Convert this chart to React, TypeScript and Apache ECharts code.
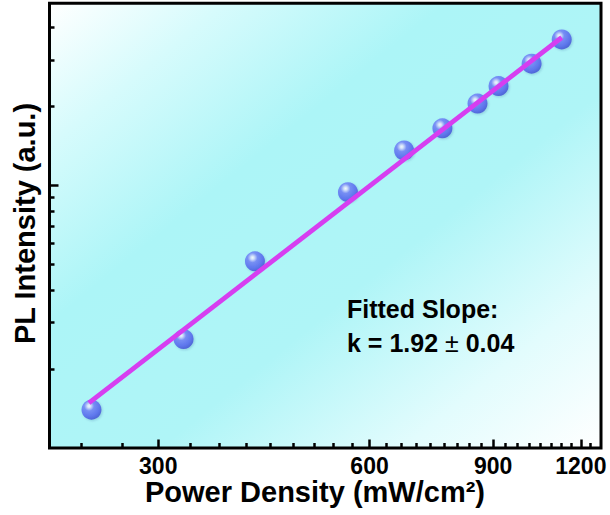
import React, { useEffect, useRef } from 'react';
import * as echarts from 'echarts';

// ---- data ----
const powerDensity = [241, 326, 412, 559, 672, 762, 855, 916, 1021, 1127];
const plIntensity = [1.4, 2.6, 5.14, 9.43, 13.6, 16.5, 20.5, 23.9, 29.1, 36.0];
const fitX = [239, 1127];
const fitY = [1.485, 36.6];

const xRange = [210, 1282];
const yRange = [1, 49.4];
const xMajorTicks = [300, 600, 900, 1200];
const xMinorTicks = [
  233.3, 266.7, 333.3, 366.7, 400, 433.3, 466.7, 500, 533.3, 566.7, 633.3, 666.7, 700, 733.3,
  766.7, 800, 833.3, 866.7, 937.5, 975, 1012.5, 1050, 1087.5, 1125, 1162.5, 1237.5,
];
const yMajorTicks = [10];
const yMinorTicks = [2, 3, 4, 5, 6, 7, 8, 9, 20, 30, 40];

const xTitle = 'Power Density (mW/cm²)';
const yTitle = 'PL Intensity (a.u.)';
const noteTitle = 'Fitted Slope:';
const noteSlope = 'k = 1.92';
const noteError = '0.04';

const FONT = '"Liberation Sans", Arial, Helvetica, sans-serif';
const lg = (v: number) => Math.log10(v);

export default function App() {
  const ref = useRef<HTMLDivElement>(null);

  useEffect(() => {
    if (!ref.current) return;
    const chart = echarts.init(ref.current, undefined, { renderer: 'svg' });

    const xMin = lg(xRange[0]);
    const xMax = lg(xRange[1]);
    const yMin = lg(yRange[0]);
    const yMax = lg(yRange[1]);

    const baseAxis = {
      type: 'value' as const,
      axisLine: { show: false },
      splitLine: { show: false },
    };

    const sphere = new echarts.graphic.RadialGradient(0.38, 0.32, 0.68, [
      { offset: 0, color: '#ffffff' },
      { offset: 0.12, color: '#dfe2ff' },
      { offset: 0.36, color: '#6d7cf7' },
      { offset: 0.75, color: '#5162ef' },
      { offset: 1, color: '#3e4ed6' },
    ]);

    const bg = new echarts.graphic.LinearGradient(0, 0, 1, 1, [
      { offset: 0, color: '#ffffff' },
      { offset: 0.16, color: '#d6fbfc' },
      { offset: 0.36, color: '#acf5f7' },
      { offset: 0.6, color: '#aff5f7' },
      { offset: 0.82, color: '#e2fcfd' },
      { offset: 1, color: '#ffffff' },
    ]);

    chart.setOption({
      animation: false,
      textStyle: { fontFamily: FONT },
      grid: {
        left: 49.5,
        right: 9,
        top: 3.3,
        bottom: 67,
        show: true,
        backgroundColor: bg as any,
        borderColor: '#000',
        borderWidth: 3,
        z: 0,
      },
      xAxis: [
        {
          ...baseAxis,
          position: 'bottom',
          min: xMin,
          max: xMax,
          axisTick: {
            show: true,
            inside: true,
            length: 8.5,
            lineStyle: { color: '#000', width: 2.5 },
            customValues: xMajorTicks.map(lg),
          },
          axisLabel: {
            show: true,
            customValues: xMajorTicks.map(lg),
            formatter: (v: number) => String(Math.round(Math.pow(10, v))),
            color: '#000',
            fontSize: 23,
            fontWeight: 'bold',
            fontFamily: FONT,
            margin: 6,
          },
        },
        {
          ...baseAxis,
          position: 'bottom',
          min: xMin,
          max: xMax,
          axisTick: {
            show: true,
            inside: true,
            length: 5,
            lineStyle: { color: '#000', width: 2.5 },
            customValues: xMinorTicks.map(lg),
          },
          axisLabel: { show: false },
        },
      ],
      yAxis: [
        {
          ...baseAxis,
          position: 'left',
          min: yMin,
          max: yMax,
          axisTick: {
            show: true,
            inside: true,
            length: 9,
            lineStyle: { color: '#000', width: 2.5 },
            customValues: yMajorTicks.map(lg),
          },
          axisLabel: { show: false },
        },
        {
          ...baseAxis,
          position: 'left',
          min: yMin,
          max: yMax,
          axisTick: {
            show: true,
            inside: true,
            length: 5,
            lineStyle: { color: '#000', width: 2.5 },
            customValues: yMinorTicks.map(lg),
          },
          axisLabel: { show: false },
        },
      ],
      series: [
        {
          type: 'scatter',
          xAxisIndex: 0,
          yAxisIndex: 0,
          z: 2,
          symbol: 'circle',
          symbolSize: 20,
          itemStyle: {
            color: sphere as any,
            shadowColor: 'rgba(40,50,120,0.25)',
            shadowBlur: 2,
            shadowOffsetX: 1,
            shadowOffsetY: 1,
          },
          data: powerDensity.map((x, i) => [lg(x), lg(plIntensity[i])]),
        },
        {
          type: 'line',
          xAxisIndex: 0,
          yAxisIndex: 0,
          z: 3,
          symbol: 'none',
          lineStyle: { color: '#d63ef0', width: 4.8 },
          data: fitX.map((x, i) => [lg(x), lg(fitY[i])]),
        },
      ],
      graphic: [
        {
          type: 'text',
          x: 315,
          y: 492,
          z: 10,
          style: {
            text: xTitle,
            font: `bold 29px ${FONT}`,
            fill: '#000',
            align: 'center',
            verticalAlign: 'middle',
          },
        },
        {
          type: 'text',
          x: 25,
          y: 223.5,
          rotation: Math.PI / 2,
          z: 10,
          style: {
            text: yTitle,
            font: `bold 29px ${FONT}`,
            fill: '#000',
            align: 'center',
            verticalAlign: 'middle',
          },
        },
        {
          type: 'text',
          x: 347,
          y: 309,
          z: 10,
          style: {
            text: noteTitle,
            font: `bold 25px ${FONT}`,
            fill: '#000',
            align: 'left',
            verticalAlign: 'middle',
          },
        },
        {
          type: 'text',
          x: 347,
          y: 342.5,
          z: 10,
          style: {
            text: `{a|${noteSlope} }{b|±}{a| ${noteError}}`,
            font: `bold 25px ${FONT}`,
            fill: '#000',
            align: 'left',
            verticalAlign: 'middle',
            rich: {
              a: { fontSize: 25, fontWeight: 'bold', fontFamily: FONT, fill: '#000' } as any,
              b: { fontSize: 25, fontWeight: 'normal', fontFamily: FONT, fill: '#000' } as any,
            },
          },
        },
      ],
    });

    return () => chart.dispose();
  }, []);

  return (
    <div
      ref={ref}
      style={{ position: 'fixed', left: 0, top: 0, width: 610, height: 515, background: '#fff' }}
    />
  );
}
